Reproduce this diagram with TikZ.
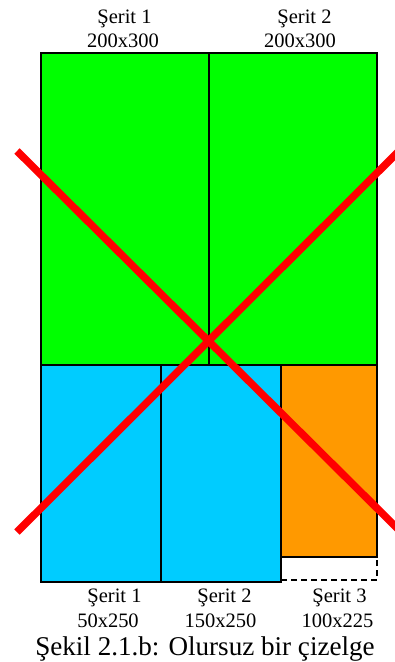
\documentclass[tikz,border=0pt]{standalone}
\usepackage{fontspec}
\setmainfont{Liberation Serif}
\definecolor{cgreen}{HTML}{00FF00}
\definecolor{cblue}{HTML}{00CCFF}
\definecolor{corange}{HTML}{FF9900}
\definecolor{cred}{HTML}{FF0000}
\begin{document}
\begin{tikzpicture}[x=1pt,y=-1pt,
  box/.style={draw=black,line width=2pt},
  lbl/.style={inner sep=0pt,anchor=base,font=\fontsize{20.5}{24}\selectfont},
  captext/.style={inner sep=0pt,anchor=base,font=\fontsize{27.1}{30}\selectfont},
  cross/.style={draw=cred,line width=7.5pt}]
\useasboundingbox (0,0) rectangle (395,662);
\clip (0,0) rectangle (395,662);
% green strips
\draw[box,fill=cgreen] (41,53) rectangle (209,365);
\draw[box,fill=cgreen] (209,53) rectangle (377,365);
% blue strips
\draw[box,fill=cblue] (41,365) rectangle (161,582);
\draw[box,fill=cblue] (161,365) rectangle (281,582);
% orange strip
\draw[box,fill=corange] (281,365) rectangle (377,557);
\coordinate (dA) at (281,580);
\coordinate (dB) at (377,580);
\coordinate (dC) at (377,557);
\draw[line width=2pt,dash pattern=on 6pt off 4pt] (dA) -- (dB) -- (dC);
% red cross
\coordinate (r1a) at (17,151);
\coordinate (r1b) at (402,533);
\coordinate (r2a) at (17,532);
\coordinate (r2b) at (402,148);
\draw[cross] (r1a) -- (r1b);
\draw[cross] (r2a) -- (r2b);
% top labels
\node[lbl] (t1) at (124.5,23) {Şerit 1};
\node[lbl] (t1s) at (123,47) {200x300};
\node[lbl] (t2) at (304.5,23) {Şerit 2};
\node[lbl] (t2s) at (300,47) {200x300};
% bottom labels
\node[lbl] (b1) at (114.5,602) {Şerit 1};
\node[lbl] (b1s) at (108,627) {50x250};
\node[lbl] (b2) at (224.5,602) {Şerit 2};
\node[lbl] (b2s) at (220.5,627) {150x250};
\node[lbl] (b3) at (339.5,602) {Şerit 3};
\node[lbl] (b3s) at (337.5,627) {100x225};
\node[captext] (caption) at (205,655) {Şekil 2.1.b: Olursuz bir çizelge};
\end{tikzpicture}
\end{document}
